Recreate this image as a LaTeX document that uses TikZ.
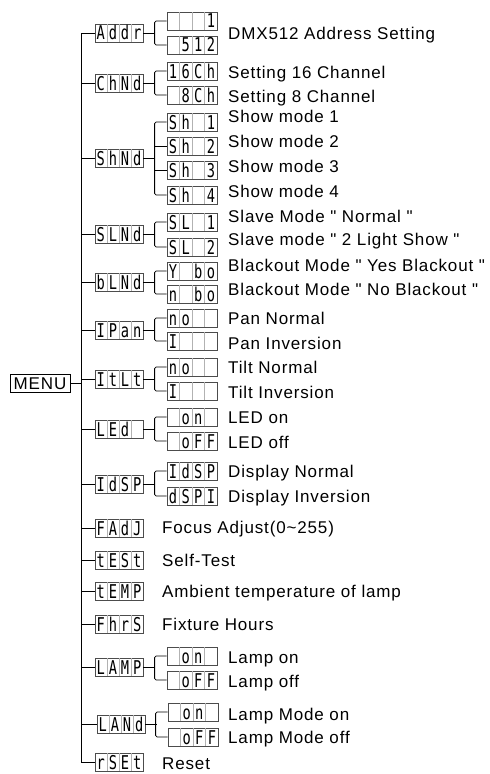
\documentclass[tikz,border=0pt]{standalone}
\usepackage{fontspec}
\setmainfont{Liberation Sans}[LetterSpace=5, Ligatures=TeXOff]
\newfontfamily\segfont{DejaVu Sans Mono}[FakeStretch=0.72]
\usetikzlibrary{calc}

\definecolor{boxgrey}{gray}{0.3}
\definecolor{sepgrey}{gray}{0.7}

% one display: name, style, position, four digits
\newcommand{\disp}[7]{%
  \node[#2] (#1) at (#3) {};
  \node[digit] (#1-1) at ($(#1.west)!0.125!(#1.east)$) {#4};
  \node[digit] (#1-2) at ($(#1.west)!0.375!(#1.east)$) {#5};
  \node[digit] (#1-3) at ($(#1.west)!0.625!(#1.east)$) {#6};
  \node[digit] (#1-4) at ($(#1.west)!0.875!(#1.east)$) {#7};
  \foreach \f in {0.25,0.5,0.75}
    \draw[sep] ($(#1.north west)!\f!(#1.north east)$) -- ($(#1.south west)!\f!(#1.south east)$);
}

\begin{document}
\begin{tikzpicture}[
    x=1bp, y=-1bp,
    lvl/.style={draw=boxgrey, line width=0.8bp, minimum width=48bp, minimum height=18bp, inner sep=0pt},
    sub/.style={lvl, minimum width=50bp},
    digit/.style={inner sep=0pt, text height=14bp, text depth=0pt, font=\segfont\fontsize{19bp}{19bp}\selectfont},
    sep/.style={draw=sepgrey, line width=0.5bp, shorten <=0.4bp, shorten >=0.4bp},
    lbl/.style={anchor=west, inner sep=0pt, text height=12bp, text depth=0pt, font=\fontsize{17bp}{20bp}\selectfont},
    wire/.style={line width=0.8bp}
]
\useasboundingbox (0,0) rectangle (490,774);

% Menu
\node[draw, line width=0.8bp, minimum width=60bp, minimum height=18bp, inner sep=0pt, text height=12bp, text depth=0pt,
      font=\fontsize{17bp}{20bp}\selectfont] (menu) at (40,383) {MENU};

% Displays
\disp{addr}{lvl}{119,33}{A}{d}{d}{r}
\disp{addr-a}{sub}{192,21}{}{}{}{1}
\disp{addr-b}{sub}{192,45}{}{5}{1}{2}
\disp{chnd}{lvl}{119,83}{C}{h}{N}{d}
\disp{chnd-a}{sub}{192,71}{1}{6}{C}{h}
\disp{chnd-b}{sub}{192,95}{}{8}{C}{h}
\disp{shnd}{lvl}{119,158}{S}{h}{N}{d}
\disp{shnd-a}{sub}{192,122}{S}{h}{}{1}
\disp{shnd-b}{sub}{192,146}{S}{h}{}{2}
\disp{shnd-c}{sub}{192,170}{S}{h}{}{3}
\disp{shnd-d}{sub}{192,195}{S}{h}{}{4}
\disp{slnd}{lvl}{119,234}{S}{L}{N}{d}
\disp{slnd-a}{sub}{192,222}{S}{L}{}{1}
\disp{slnd-b}{sub}{192,247}{S}{L}{}{2}
\disp{blnd}{lvl}{119,282}{b}{L}{N}{d}
\disp{blnd-a}{sub}{192,271}{Y}{}{b}{o}
\disp{blnd-b}{sub}{192,294}{n}{}{b}{o}
\disp{ipan}{lvl}{119,330}{I}{P}{a}{n}
\disp{ipan-a}{sub}{192,318}{n}{o}{}{}
\disp{ipan-b}{sub}{192,341}{I}{}{}{}
\disp{itlt}{lvl}{119,379}{I}{t}{L}{t}
\disp{itlt-a}{sub}{192,367}{n}{o}{}{}
\disp{itlt-b}{sub}{192,391}{I}{}{}{}
\disp{led}{lvl}{119,429}{L}{E}{d}{}
\disp{led-a}{sub}{192,417}{}{o}{n}{}
\disp{led-b}{sub}{192,441}{}{o}{F}{F}
\disp{idsp}{lvl}{119,484}{I}{d}{S}{P}
\disp{idsp-a}{sub}{192,471}{I}{d}{S}{P}
\disp{idsp-b}{sub}{192,496}{d}{S}{P}{I}
\disp{fadj}{lvl}{119,528}{F}{A}{d}{J}
\disp{test}{lvl}{119,560}{t}{E}{S}{t}
\disp{temp}{lvl}{119,591}{t}{E}{M}{P}
\disp{fhrs}{lvl}{119,624}{F}{h}{r}{S}
\disp{lamp}{lvl}{119,667}{L}{A}{M}{P}
\disp{lamp-a}{sub}{192,656}{}{o}{n}{}
\disp{lamp-b}{sub}{192,680}{}{o}{F}{F}
\disp{land}{lvl}{121,724}{L}{A}{N}{d}
\disp{land-a}{sub}{193,712}{}{o}{n}{}
\disp{land-b}{sub}{193,737}{}{o}{F}{F}
\disp{rset}{lvl}{119,762}{r}{S}{E}{t}

% Trunk
\draw[wire] (menu.east) -- ++(12,0);
\draw[wire] (addr.west) -- ++(-13,0) |- (rset.west);
\foreach \n in {chnd,shnd,slnd,blnd,ipan,itlt,led,idsp,fadj,test,temp,fhrs,lamp}
  \draw[wire] (\n.west) -- ++(-13,0);
\draw[wire] (land.west) -- ++(-15,0);

% Forks
\foreach \p in {addr,chnd,slnd,blnd,ipan,itlt,led,idsp,lamp,land} {
  \draw[wire] (\p.east) -- ++(12,0);
  \draw[wire, rounded corners=1.5bp] (\p-a.west) -- ++(-12,0) |- (\p-b.west);
}
\draw[wire] (shnd.east) -- ++(12,0);
\draw[wire, rounded corners=1.5bp] (shnd-a.west) -- ++(-12,0) |- (shnd-d.west);
\draw[wire] (shnd-b.west) -- ++(-12,0);
\draw[wire] (shnd-c.west) -- ++(-12,0);

% Labels
\node[lbl] (t-addr) at (228,34) {DMX512 Address Setting};
\node[lbl] (t-ch16) at (228,72) {Setting 16 Channel};
\node[lbl] (t-ch8) at (228,96) {Setting 8 Channel};
\node[lbl] (t-sh1) at (228,116) {Show mode 1};
\node[lbl] (t-sh2) at (228,141) {Show mode 2};
\node[lbl] (t-sh3) at (228,166) {Show mode 3};
\node[lbl] (t-sh4) at (228,191) {Show mode 4};
\node[lbl] (t-sl1) at (228,216) {Slave Mode " Normal "};
\node[lbl] (t-sl2) at (228,239) {Slave mode " 2 Light Show "};
\node[lbl] (t-bo1) at (228,265) {Blackout Mode " Yes Blackout "};
\node[lbl] (t-bo2) at (228,289) {Blackout Mode " No Blackout "};
\node[lbl] (t-pan1) at (228,318) {Pan Normal};
\node[lbl] (t-pan2) at (228,343) {Pan Inversion};
\node[lbl] (t-tlt1) at (228,367) {Tilt Normal};
\node[lbl] (t-tlt2) at (228,392) {Tilt Inversion};
\node[lbl] (t-led1) at (228,417) {LED on};
\node[lbl] (t-led2) at (228,442) {LED off};
\node[lbl] (t-dsp1) at (228,471) {Display Normal};
\node[lbl] (t-dsp2) at (228,496) {Display Inversion};
\node[lbl] (t-fadj) at (162,527) {Focus Adjust(0\textasciitilde255)};
\node[lbl] (t-test) at (162,560) {Self-Test};
\node[lbl] (t-temp) at (162,591) {Ambient temperature of lamp};
\node[lbl] (t-fhrs) at (162,624) {Fixture Hours};
\node[lbl] (t-lamp1) at (228,657) {Lamp on};
\node[lbl] (t-lamp2) at (228,681) {Lamp off};
\node[lbl] (t-land1) at (228,714) {Lamp Mode on};
\node[lbl] (t-land2) at (228,737) {Lamp Mode off};
\node[lbl] (t-rset) at (162,763) {Reset};

\end{tikzpicture}
\end{document}
